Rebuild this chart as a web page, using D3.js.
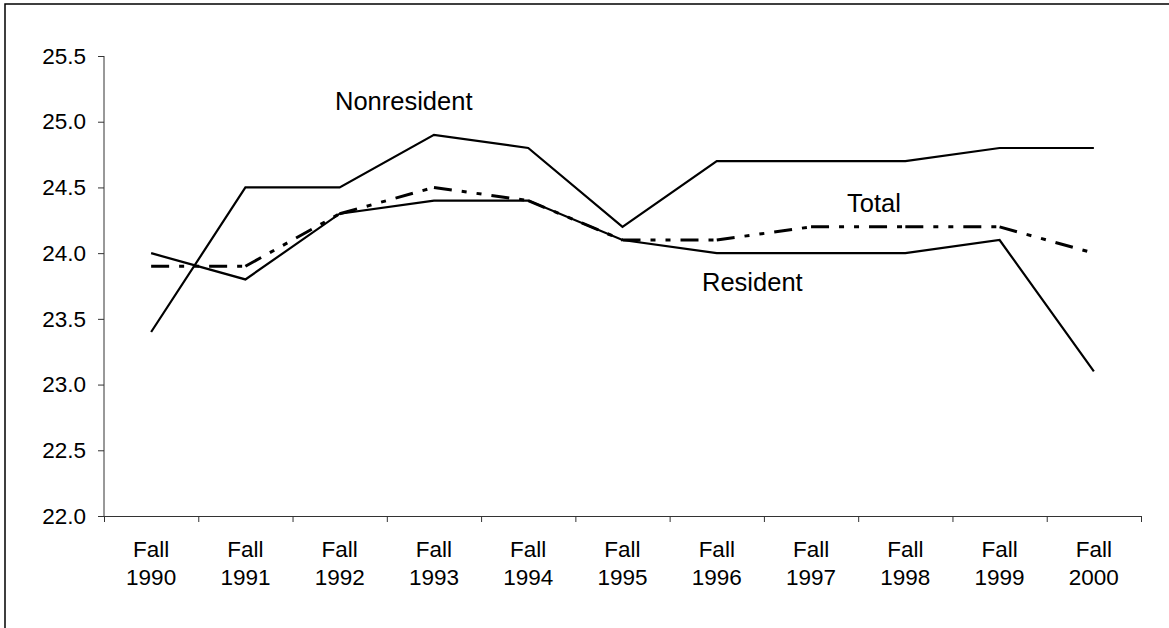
<!DOCTYPE html>
<html>
<head>
<meta charset="utf-8">
<script src="https://cdn.jsdelivr.net/npm/d3@7"></script>
<style>
  body { margin: 0; background: #fff; }
  svg { display: block; font-family: Arial, "Liberation Sans", sans-serif; }
</style>
</head>
<body>
<svg id="chart"></svg>
<script>
const years = ["1990", "1991", "1992", "1993", "1994", "1995", "1996", "1997", "1998", "1999", "2000"];
const nonresident = [23.4, 24.5, 24.5, 24.9, 24.8, 24.2, 24.7, 24.7, 24.7, 24.8, 24.8];
const resident = [24.0, 23.8, 24.3, 24.4, 24.4, 24.1, 24.0, 24.0, 24.0, 24.1, 23.1];
const total = [23.9, 23.9, 24.3, 24.5, 24.4, 24.1, 24.1, 24.2, 24.2, 24.2, 24.0];
const yTicks = [22.0, 22.5, 23.0, 23.5, 24.0, 24.5, 25.0, 25.5];

const w = 1169;
const h = 628;

const svg = d3.select("#chart").attr("width", w).attr("height", h);

// outer frame (right/bottom edges fall outside the picture)
svg.append("rect").attr("x", 5).attr("y", 4).attr("width", w + 10).attr("height", h + 10)
  .attr("fill", "none").attr("stroke", "#000").attr("stroke-width", 1.5);

const x = d3.scaleBand().domain(years).range([104, 1141]).padding(0);
const xi = d3.scaleLinear().domain([0, years.length]).range([104, 1141]);
const y = d3.scaleLinear().domain([22, 25.5]).range([516, 56]);
const cx = (d, i) => x(years[i]) + x.bandwidth() / 2;

// y axis
const yAxis = svg.append("g").attr("transform", "translate(104,0)")
  .call(d3.axisLeft(y).tickValues(yTicks).tickFormat(d3.format(".1f")).tickSize(6).tickPadding(12));
yAxis.select(".domain").attr("d", "M0," + y(25.5) + "V" + y(22));
yAxis.selectAll("line, path").attr("stroke", "#333");
yAxis.selectAll("text").attr("font-size", 22.5).attr("fill", "#000").attr("dy", "0.32em");

// x axis: ticks at category boundaries
const xAxis = svg.append("g").attr("transform", "translate(0,516)")
  .call(d3.axisBottom(xi).tickValues(d3.range(years.length + 1)).tickFormat("").tickSize(6).tickSizeOuter(0));
xAxis.selectAll("line, path").attr("stroke", "#333");

const lbl = svg.append("g").selectAll("text").data(years).enter().append("text")
  .attr("text-anchor", "middle").attr("font-size", 22.5).attr("fill", "#000");
lbl.append("tspan").attr("x", d => x(d) + x.bandwidth() / 2).attr("y", 557).text("Fall");
lbl.append("tspan").attr("x", d => x(d) + x.bandwidth() / 2).attr("y", 585).text(d => d);

const line = d3.line().x(cx).y(d => y(d));

svg.append("path").datum(nonresident).attr("d", line)
  .attr("fill", "none").attr("stroke", "#000").attr("stroke-width", 2.2).attr("stroke-linejoin", "miter");
svg.append("path").datum(resident).attr("d", line)
  .attr("fill", "none").attr("stroke", "#000").attr("stroke-width", 2.2).attr("stroke-linejoin", "miter");

// total: long dash-dot-dot, pattern restarts on each segment
const segs = d3.pairs(total.map((v, i) => [cx(v, i), y(v)]));
svg.append("g").selectAll("line").data(segs).enter().append("line")
  .attr("x1", d => d[0][0]).attr("y1", d => d[0][1])
  .attr("x2", d => d[1][0]).attr("y2", d => d[1][1])
  .attr("stroke", "#000").attr("stroke-width", 3)
  .attr("stroke-dasharray", "18,10,5,10,5,10");

// series labels
const sl = svg.append("g").attr("font-size", 25.5).attr("fill", "#000");
sl.append("text").attr("x", 335).attr("y", 110).text("Nonresident");
sl.append("text").attr("x", 847).attr("y", 212).text("Total");
sl.append("text").attr("x", 702).attr("y", 291).text("Resident");
</script>
</body>
</html>
